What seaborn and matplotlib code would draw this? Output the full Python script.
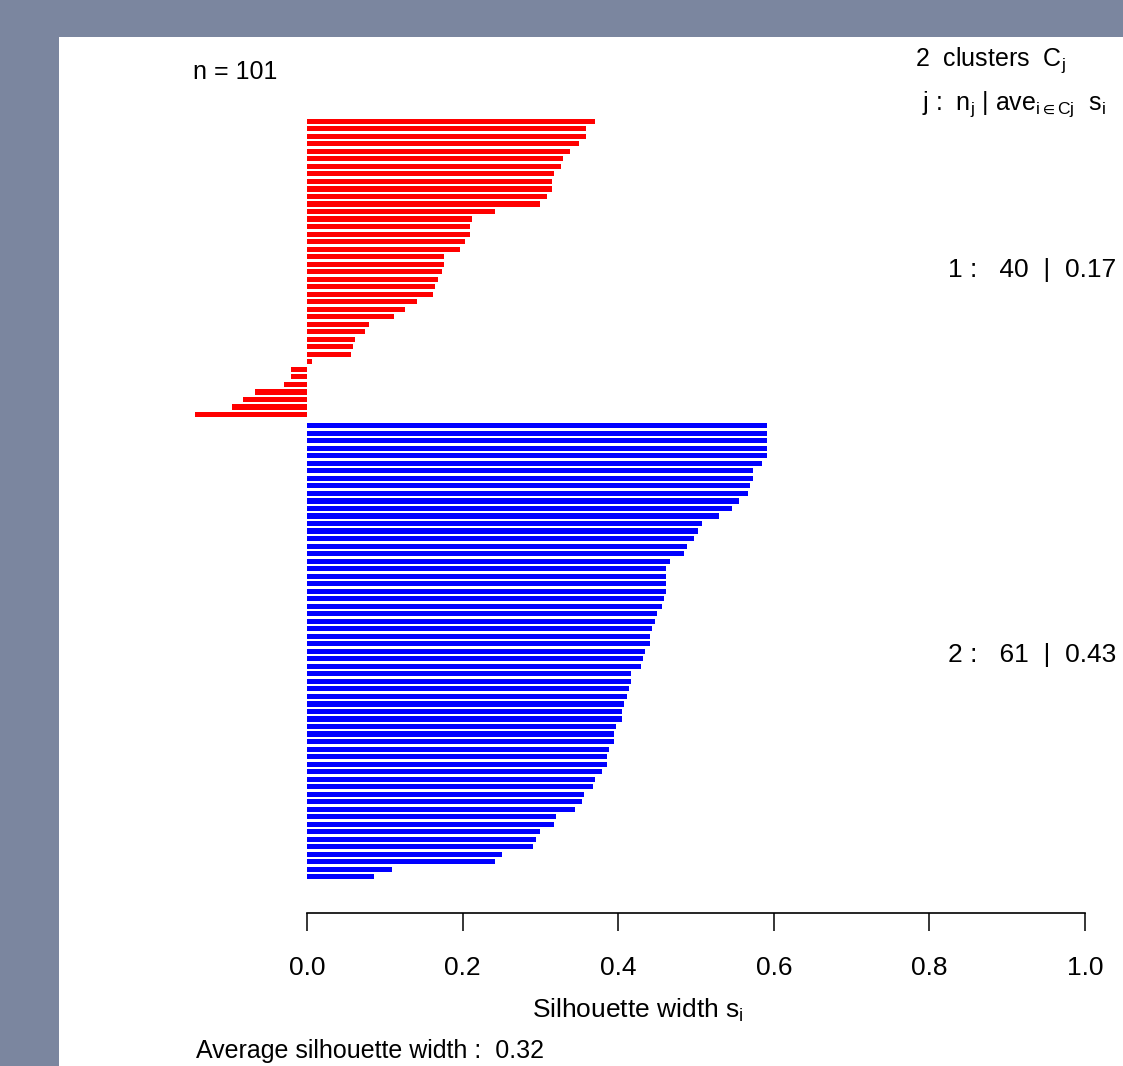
import numpy as np
import pandas as pd
import matplotlib
matplotlib.use('Agg')
import matplotlib.pyplot as plt
import seaborn as sns
from matplotlib.patches import Rectangle

# silhouette widths, sorted within each cluster
sil_cluster1 = [0.370, 0.359, 0.359, 0.349, 0.338, 0.329, 0.326, 0.318, 0.315, 0.315,
                0.309, 0.300, 0.241, 0.212, 0.209, 0.209, 0.203, 0.197, 0.176, 0.176,
                0.174, 0.168, 0.165, 0.162, 0.141, 0.126, 0.112, 0.080, 0.074, 0.062,
                0.059, 0.056, 0.006, -0.020, -0.020, -0.029, -0.067, -0.082, -0.096, -0.144]
sil_cluster2 = [0.591, 0.591, 0.591, 0.591, 0.591, 0.585, 0.573, 0.573, 0.570, 0.567,
                0.555, 0.546, 0.529, 0.508, 0.503, 0.497, 0.488, 0.485, 0.467, 0.462,
                0.462, 0.462, 0.462, 0.459, 0.456, 0.450, 0.447, 0.444, 0.441, 0.441,
                0.435, 0.432, 0.429, 0.417, 0.417, 0.414, 0.411, 0.408, 0.405, 0.405,
                0.397, 0.394, 0.394, 0.388, 0.385, 0.385, 0.379, 0.370, 0.367, 0.356,
                0.353, 0.344, 0.320, 0.318, 0.300, 0.294, 0.291, 0.250, 0.241, 0.109,
                0.086]
cluster_names = ['1', '2']
cluster_sizes = [40, 61]
cluster_means = ['0.17', '0.43']
avg_width = '0.32'
n_total = 101
x_ticks = [0.0, 0.2, 0.4, 0.6, 0.8, 1.0]

# R's silhouette plot leaves half a bar of space between clusters
pos = list(range(len(sil_cluster1))) + [len(sil_cluster1) + 0.5 + i for i in range(len(sil_cluster2))]
df = pd.DataFrame({
    'sil': sil_cluster1 + sil_cluster2,
    'pos': pos,
    'cluster': ['1'] * len(sil_cluster1) + ['2'] * len(sil_cluster2),
})

sns.set_theme(style='white')
plt.rcParams['font.family'] = ['Liberation Sans', 'DejaVu Sans']
plt.rcParams['mathtext.fontset'] = 'custom'
plt.rcParams['mathtext.rm'] = 'Liberation Sans'
plt.rcParams['mathtext.it'] = 'Liberation Sans'
plt.rcParams['mathtext.fallback'] = 'stixsans'

W, H = 1123, 1066
fig = plt.figure(figsize=(W / 100, H / 100), dpi=100)
fig.patch.set_facecolor('#7b869f')
# white plot panel pasted on the slide
fig.patches.append(Rectangle((59 / W, 0), 1, 1 - 37 / H, transform=fig.transFigure,
                             facecolor='white', edgecolor='none', zorder=-5))


def fx(x):
    return x / W


def fy(y):
    return 1 - y / H


ax = fig.add_axes([fx(167), fy(913), (1085 - 167) / W, (913 - 100) / H])
ax.set_facecolor('none')
ax.set_zorder(2)

sns.barplot(data=df, x='sil', y='pos', hue='cluster', orient='h', native_scale=True,
            dodge=False, palette={'1': '#ff0000', '2': '#0000ff'}, saturation=1,
            width=0.68, errorbar=None, legend=False, linewidth=0, ax=ax)

ax.set_xlim(-0.18, 1.0)
ax.set_ylim(105.3, -2.83)
ax.set_yticks([])
ax.set_xlabel('')
ax.set_ylabel('')
for s in ['left', 'top', 'right']:
    ax.spines[s].set_visible(False)
ax.spines['bottom'].set_bounds(0, 1)
ax.spines['bottom'].set_color('black')
ax.spines['bottom'].set_linewidth(1.2)
ax.set_xticks(x_ticks)
ax.set_xticklabels([f'{t:.1f}' for t in x_ticks])
ax.tick_params(axis='x', direction='out', length=13, width=1.1, color='black',
               pad=18, labelsize=19, labelcolor='black', bottom=True)

fig.text(fx(638), fy(1010), r'Silhouette width s$_\mathrm{i}$', ha='center', va='center',
         fontsize=19, color='black')
fig.text(fx(193), fy(72), f'n = {n_total}', ha='left', va='center', fontsize=18, color='black')
fig.text(fx(915), fy(60), r'2  clusters  C$_\mathrm{j}$', ha='left', va='center',
         fontsize=18, color='black')
fig.text(fx(922), fy(104), r'j :  n$_\mathrm{j}$ | ave$_{\mathrm{i\in Cj}}$  s$_\mathrm{i}$',
         ha='left', va='center', fontsize=18, color='black')

label_y = [270, 655]
for name, size, mean, yy in zip(cluster_names, cluster_sizes, cluster_means, label_y):
    fig.text(fx(948), fy(yy), f'{name} :   {size}  |  {mean}', ha='left', va='center',
             fontsize=19, color='black')

fig.text(fx(196), fy(1063), f'Average silhouette width :  {avg_width}', ha='left', va='bottom',
         fontsize=18, color='black')

fig.savefig('out.png', dpi=100, facecolor=fig.get_facecolor())
